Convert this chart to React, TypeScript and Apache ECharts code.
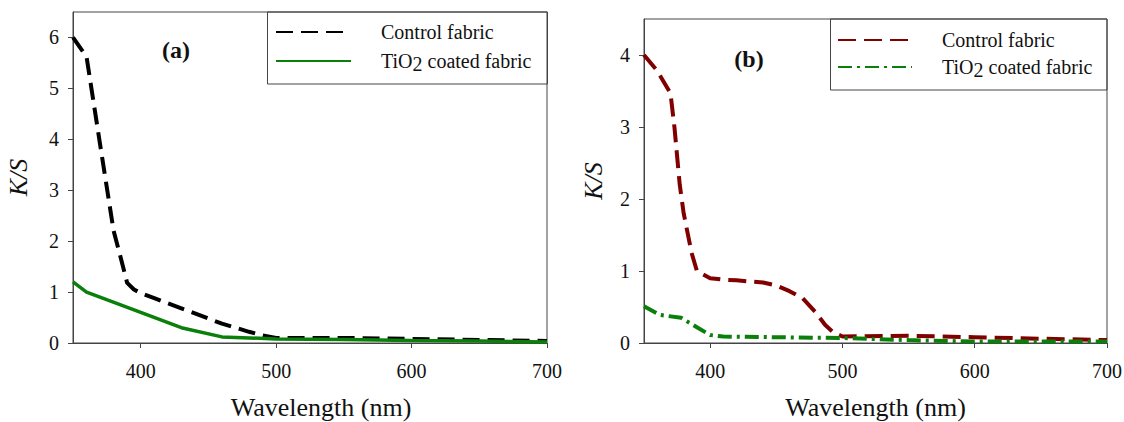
import React, { useEffect, useRef } from "react";
import * as echarts from "echarts";

// ---- data ----
const xTicks = [400, 500, 600, 700];
const yTicksA = [0, 1, 2, 3, 4, 5, 6];
const yTicksB = [0, 1, 2, 3, 4];

const aControlX = [350, 360, 370, 380, 385, 390, 395, 400, 410, 430, 460, 480, 490, 500, 550, 600, 650, 700];
const aControlY = [6.0, 5.62, 3.9, 2.2, 1.7, 1.18, 1.05, 0.98, 0.88, 0.68, 0.38, 0.22, 0.15, 0.1, 0.1, 0.08, 0.06, 0.04];

const aTioX = [350, 360, 400, 430, 460, 500, 550, 600, 650, 700];
const aTioY = [1.2, 1.0, 0.6, 0.3, 0.12, 0.08, 0.07, 0.05, 0.04, 0.02];

const bControlX = [350, 360, 370, 373, 377, 380, 386, 390, 400, 410, 420, 440, 450, 460, 470, 480, 487, 493, 500, 550, 600, 650, 700];
const bControlY = [4.0, 3.78, 3.47, 3.0, 2.2, 1.8, 1.25, 1.0, 0.9, 0.88, 0.87, 0.84, 0.8, 0.72, 0.62, 0.42, 0.25, 0.15, 0.09, 0.1, 0.08, 0.06, 0.04];

const bTioX = [350, 362, 378, 390, 400, 410, 450, 500, 550, 600, 650, 700];
const bTioY = [0.51, 0.39, 0.35, 0.22, 0.11, 0.09, 0.08, 0.07, 0.04, 0.02, 0.02, 0.02];

const legendLabels: Record<string, string> = {
  aControl: "{n|Control fabric}",
  aTio: "{n|TiO}{s|2}{t| coated fabric}",
  bControl: "{n|Control fabric}",
  bTio: "{n|TiO}{s|2}{t| coated fabric}",
};

const zip = (xs: number[], ys: number[]) => xs.map((x, i) => [x, ys[i]]);

const FONT = "Liberation Serif";
const AXIS_COLOR = "#444";
const TEXT_COLOR = "#111";

export default function App() {
  const ref = useRef<HTMLDivElement>(null);

  useEffect(() => {
    if (!ref.current) return;
    const chart = echarts.init(ref.current, undefined, { renderer: "svg" });

    const richText = {
      n: { fontFamily: FONT, fontSize: 20, color: TEXT_COLOR, padding: [0, 0, 0, 25], lineHeight: 22 },
      s: { fontFamily: FONT, fontSize: 20, color: TEXT_COLOR, padding: [6, 0, 0, 0], lineHeight: 16 },
      t: { fontFamily: FONT, fontSize: 20, color: TEXT_COLOR, lineHeight: 22 },
    };

    const xAxisFor = (gi: number, namePad: number) => ({
      type: "value",
      gridIndex: gi,
      min: 350,
      max: 700,
      splitLine: { show: false },
      axisLine: { show: true, onZero: false, lineStyle: { color: AXIS_COLOR, width: 1 } },
      axisTick: { show: true, inside: false, length: 5, customValues: xTicks, lineStyle: { color: AXIS_COLOR } },
      axisLabel: { customValues: xTicks, margin: 18, fontFamily: FONT, fontSize: 20, color: TEXT_COLOR },
      name: "Wavelength (nm)",
      nameLocation: "middle",
      nameGap: 51,
      nameTextStyle: { fontFamily: FONT, fontSize: 26, color: TEXT_COLOR, padding: [0, 0, 0, namePad] },
    });

    const yAxisFor = (gi: number, max: number, ticks: number[], gap: number) => ({
      type: "value",
      gridIndex: gi,
      min: 0,
      max,
      splitLine: { show: false },
      axisLine: { show: true, onZero: false, lineStyle: { color: AXIS_COLOR, width: 1 } },
      axisTick: { show: true, inside: false, length: 5, customValues: ticks, lineStyle: { color: AXIS_COLOR } },
      axisLabel: { customValues: ticks, margin: 14, fontFamily: FONT, fontSize: 20, color: TEXT_COLOR },
      name: "K/S",
      nameLocation: "middle",
      nameGap: gap,
      nameRotate: 90,
      nameTextStyle: { fontFamily: FONT, fontSize: 26, fontStyle: "italic", color: TEXT_COLOR },
    });

    const legendCommon = {
      orient: "vertical",
      padding: 0,
      itemHeight: 14,
      selectedMode: false,
      itemStyle: { color: "transparent", borderWidth: 0, opacity: 0 },
      formatter: (name: string) => legendLabels[name],
      textStyle: { fontFamily: FONT, fontSize: 20, color: TEXT_COLOR, rich: richText },
    };

    const option = {
      animation: false,
      backgroundColor: "#fff",
      textStyle: { fontFamily: FONT },
      grid: [
        { left: 73, right: 577, top: 12, bottom: 79, outerBoundsMode: "none", containLabel: false, show: true, borderColor: AXIS_COLOR, borderWidth: 1, backgroundColor: "transparent" },
        { left: 644, right: 17, top: 19, bottom: 79, outerBoundsMode: "none", containLabel: false, show: true, borderColor: AXIS_COLOR, borderWidth: 1, backgroundColor: "transparent" },
      ],
      xAxis: [xAxisFor(0, 22), xAxisFor(1, 0)],
      yAxis: [yAxisFor(0, 6.5, yTicksA, 42), yAxisFor(1, 4.5, yTicksB, 38)],
      legend: [
        { ...legendCommon, data: ["aControl", "aTio"], left: 275, top: 22, itemWidth: 75, itemGap: 6 },
        { ...legendCommon, data: ["bControl", "bTio"], left: 837, top: 30, itemWidth: 74, itemGap: 4 },
      ],
      series: [
        {
          name: "aControl",
          type: "line",
          xAxisIndex: 0,
          yAxisIndex: 0,
          symbol: "none",
          data: zip(aControlX, aControlY),
          itemStyle: { color: "#000" },
          lineStyle: { color: "#000", width: 4, type: [17, 8] },
        },
        {
          name: "aTio",
          type: "line",
          xAxisIndex: 0,
          yAxisIndex: 0,
          symbol: "none",
          data: zip(aTioX, aTioY),
          itemStyle: { color: "#0a7f0a" },
          lineStyle: { color: "#0a7f0a", width: 3.5 },
        },
        {
          name: "bControl",
          type: "line",
          xAxisIndex: 1,
          yAxisIndex: 1,
          symbol: "none",
          data: zip(bControlX, bControlY),
          itemStyle: { color: "#800000" },
          lineStyle: { color: "#800000", width: 4, type: [18, 8] },
        },
        {
          name: "bTio",
          type: "line",
          xAxisIndex: 1,
          yAxisIndex: 1,
          symbol: "none",
          data: zip(bTioX, bTioY),
          itemStyle: { color: "#0a7f0a" },
          lineStyle: { color: "#0a7f0a", width: 4, type: [14, 5, 3, 5] },
        },
      ],
      graphic: [
        { type: "rect", shape: { x: 267.5, y: 12, width: 280, height: 72 }, style: { fill: "none", stroke: AXIS_COLOR, lineWidth: 1 }, z: 10 },
        { type: "rect", shape: { x: 830.5, y: 19, width: 276.5, height: 71 }, style: { fill: "none", stroke: AXIS_COLOR, lineWidth: 1 }, z: 10 },
        { type: "text", x: 176, y: 50, style: { text: "(a)", font: `bold 24px ${FONT}`, fill: TEXT_COLOR, align: "center", verticalAlign: "middle" }, z: 10 },
        { type: "text", x: 749, y: 59, style: { text: "(b)", font: `bold 24px ${FONT}`, fill: TEXT_COLOR, align: "center", verticalAlign: "middle" }, z: 10 },
      ],
    };

    chart.setOption(option as any);
    return () => chart.dispose();
  }, []);

  return (
    <div
      ref={ref}
      style={{ position: "fixed", left: 0, top: 0, width: 1124, height: 422, background: "#fff" }}
    />
  );
}
